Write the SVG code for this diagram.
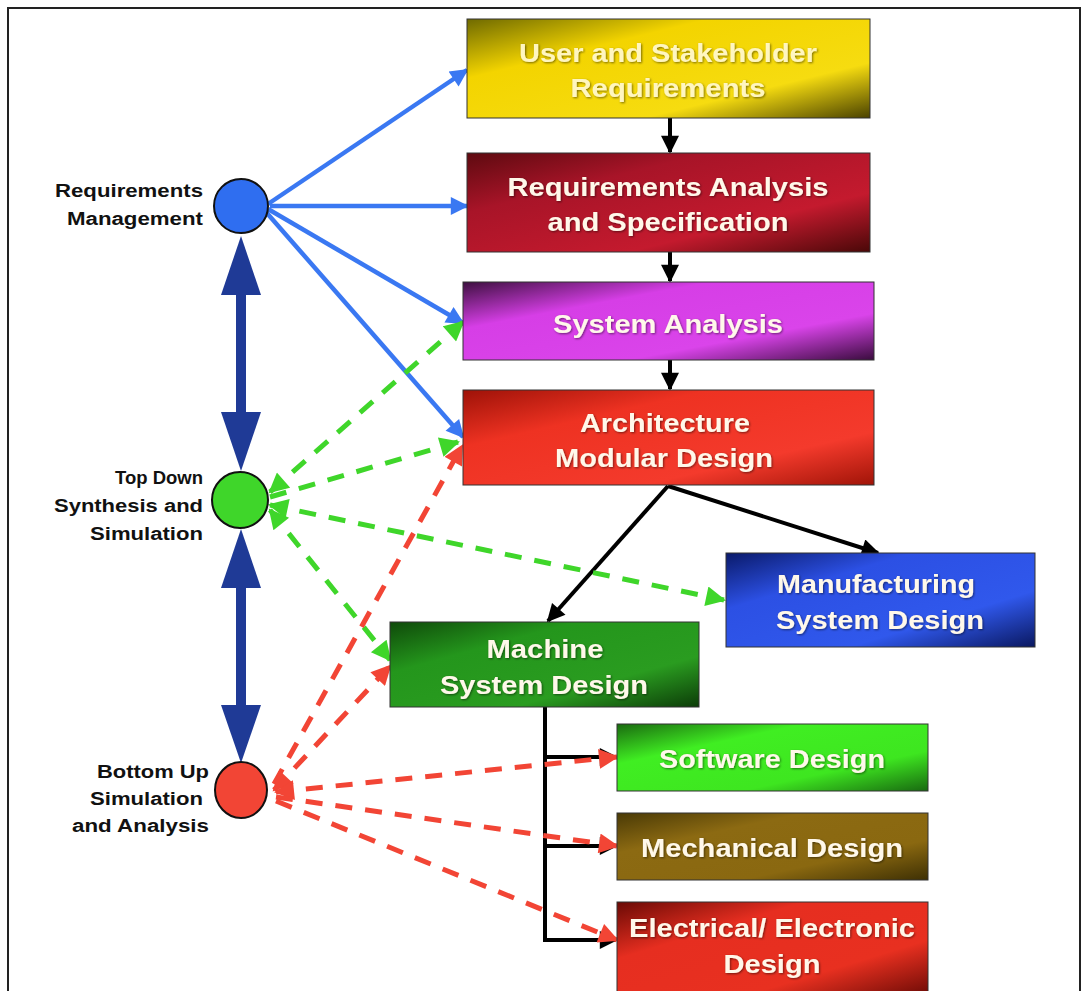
<svg xmlns="http://www.w3.org/2000/svg" width="1086" height="991" viewBox="0 0 1086 991">
<defs>
<style>
.box{stroke:#333;stroke-width:1}
.bt{font-family:"Liberation Sans",Arial,sans-serif;font-weight:bold;font-size:25px;fill:#fff8ea;text-anchor:middle;filter:url(#sh)}
.lt{font-family:"Liberation Sans",Arial,sans-serif;font-weight:bold;font-size:18px;fill:#111;text-anchor:end}
.blue{stroke:#3a78f2;stroke-width:4.5;fill:none;marker-end:url(#ab)}
.blk{stroke:#000;stroke-width:4;fill:none;marker-end:url(#ak)}
.gd{stroke:#3fd62a;stroke-width:5;fill:none;stroke-dasharray:17 13;marker-end:url(#ag)}
.rd{stroke:#f24535;stroke-width:5;fill:none;stroke-dasharray:17 13;marker-end:url(#ar)}
.dbl{stroke:#1f3a96;stroke-width:10;fill:none}
.tri{fill:#1f3a96}
</style>
<filter id="sh" x="-5%" y="-20%" width="110%" height="140%"><feDropShadow dx="1" dy="1" stdDeviation="0.8" flood-color="#000" flood-opacity="0.5"/></filter>
<marker id="ab" viewBox="0 0 10 10" refX="9" refY="5" markerWidth="22" markerHeight="18" markerUnits="userSpaceOnUse" orient="auto"><path d="M0,0 L10,5 L0,10 z" fill="#3a78f2"/></marker>
<marker id="ak" viewBox="0 0 10 10" refX="9" refY="5" markerWidth="20" markerHeight="18" markerUnits="userSpaceOnUse" orient="auto"><path d="M0,0 L10,5 L0,10 z" fill="#000"/></marker>
<marker id="ag" viewBox="0 0 10 10" refX="9" refY="5" markerWidth="22" markerHeight="20" markerUnits="userSpaceOnUse" orient="auto-start-reverse"><path d="M0,0 L10,5 L0,10 z" fill="#3fd62a"/></marker>
<marker id="ar" viewBox="0 0 10 10" refX="9" refY="5" markerWidth="22" markerHeight="20" markerUnits="userSpaceOnUse" orient="auto-start-reverse"><path d="M0,0 L10,5 L0,10 z" fill="#f24535"/></marker>
<linearGradient id="g1" x1="0" y1="0" x2="1" y2="1"><stop offset="0" stop-color="#6f6a00"/><stop offset="0.3" stop-color="#f3d400"/><stop offset="0.72" stop-color="#f6dc10"/><stop offset="1" stop-color="#4a4200"/></linearGradient>
<linearGradient id="g2" x1="0" y1="0" x2="1" y2="1"><stop offset="0" stop-color="#5e0a10"/><stop offset="0.3" stop-color="#a81428"/><stop offset="0.7" stop-color="#c41a2e"/><stop offset="1" stop-color="#4a0808"/></linearGradient>
<linearGradient id="g3" x1="0" y1="0" x2="1" y2="1"><stop offset="0" stop-color="#3e1040"/><stop offset="0.3" stop-color="#d63ee6"/><stop offset="0.7" stop-color="#da44ea"/><stop offset="1" stop-color="#3a0c3e"/></linearGradient>
<linearGradient id="g4" x1="0" y1="0" x2="1" y2="1"><stop offset="0" stop-color="#9e1208"/><stop offset="0.3" stop-color="#ee3222"/><stop offset="0.72" stop-color="#f43a2c"/><stop offset="1" stop-color="#a01408"/></linearGradient>
<linearGradient id="g5" x1="0" y1="0" x2="1" y2="1"><stop offset="0" stop-color="#0a1a6a"/><stop offset="0.3" stop-color="#2c50e4"/><stop offset="0.7" stop-color="#3058ec"/><stop offset="1" stop-color="#0a1860"/></linearGradient>
<linearGradient id="g6" x1="0" y1="0" x2="1" y2="1"><stop offset="0" stop-color="#0f4a0a"/><stop offset="0.3" stop-color="#24961c"/><stop offset="0.7" stop-color="#2a9c20"/><stop offset="1" stop-color="#0c3c08"/></linearGradient>
<linearGradient id="g7" x1="0" y1="0" x2="1" y2="1"><stop offset="0" stop-color="#1a6a10"/><stop offset="0.3" stop-color="#40ee22"/><stop offset="0.7" stop-color="#3ee620"/><stop offset="1" stop-color="#186a10"/></linearGradient>
<linearGradient id="g8" x1="0" y1="0" x2="1" y2="1"><stop offset="0" stop-color="#4a3a06"/><stop offset="0.3" stop-color="#8c6a12"/><stop offset="0.7" stop-color="#8a6810"/><stop offset="1" stop-color="#3e3004"/></linearGradient>
<linearGradient id="g9" x1="0" y1="0" x2="1" y2="1"><stop offset="0" stop-color="#6a0a05"/><stop offset="0.3" stop-color="#e62e20"/><stop offset="0.7" stop-color="#e83020"/><stop offset="1" stop-color="#6a0a05"/></linearGradient>
</defs>
<rect x="0" y="0" width="1086" height="991" fill="#fff"/>
<rect x="8" y="8" width="1072" height="1000" fill="none" stroke="#222" stroke-width="2"/>

<g id="connectors">
  <line class="dbl" x1="241" y1="290" x2="241" y2="415"/>
  <polygon class="tri" points="241,236 221,295 261,295"/>
  <polygon class="tri" points="241,471 221,412 261,412"/>
  <line class="dbl" x1="241" y1="585" x2="241" y2="708"/>
  <polygon class="tri" points="241,529 221,588 261,588"/>
  <polygon class="tri" points="241,763 221,705 261,705"/>
  <line class="blue" x1="268" y1="204" x2="467" y2="70"/>
  <line class="blue" x1="270" y1="206" x2="467" y2="206"/>
  <line class="blue" x1="268" y1="209" x2="463" y2="323"/>
  <line class="blue" x1="266" y1="212" x2="463" y2="437"/>
  <line class="blk" x1="670" y1="118" x2="670" y2="152"/>
  <line class="blk" x1="670" y1="252" x2="670" y2="281"/>
  <line class="blk" x1="670" y1="360" x2="670" y2="389"/>
  <polyline class="blk" points="668,486 548,621"/>
  <polyline class="blk" points="668,486 878,553"/>
  <polyline fill="none" stroke="#000" stroke-width="4" points="545,707 545,942"/>
  <line class="blk" x1="543" y1="757" x2="616" y2="757"/>
  <line class="blk" x1="543" y1="846" x2="616" y2="846"/>
  <line class="blk" x1="543" y1="940" x2="616" y2="940"/>
  <line class="gd" x1="270" y1="492" x2="463" y2="322" style="marker-start:url(#ag)"/>
  <line class="gd" x1="270" y1="497" x2="458" y2="442"/>
  <line class="gd" x1="270" y1="505" x2="724" y2="600" style="marker-start:url(#ag)"/>
  <line class="gd" x1="270" y1="510" x2="390" y2="660" style="marker-start:url(#ag)"/>
  <line class="rd" x1="274" y1="784" x2="462" y2="446"/>
  <line class="rd" x1="274" y1="790" x2="390" y2="666" style="marker-start:url(#ar)"/>
  <line class="rd" x1="276" y1="792" x2="617" y2="757" style="marker-start:url(#ar)"/>
  <line class="rd" x1="276" y1="797" x2="617" y2="846"/>
  <line class="rd" x1="276" y1="801" x2="617" y2="940"/>
</g>

<g id="n-user"><rect class="box" x="467" y="19" width="403" height="99" fill="url(#g1)"/>
<text class="bt" x="668" y="62" textLength="298" lengthAdjust="spacingAndGlyphs" style="fill:#fff6c0">User and Stakeholder</text>
<text class="bt" x="668" y="97" textLength="195" lengthAdjust="spacingAndGlyphs" style="fill:#fff6c0">Requirements</text></g>

<g id="n-reqa"><rect class="box" x="467" y="153" width="403" height="99" fill="url(#g2)"/>
<text class="bt" x="668" y="196" textLength="321" lengthAdjust="spacingAndGlyphs">Requirements Analysis</text>
<text class="bt" x="668" y="231" textLength="241" lengthAdjust="spacingAndGlyphs">and Specification</text></g>

<g id="n-sys"><rect class="box" x="463" y="282" width="411" height="78" fill="url(#g3)"/>
<text class="bt" x="668" y="333" textLength="230" lengthAdjust="spacingAndGlyphs">System Analysis</text></g>

<g id="n-arch"><rect class="box" x="463" y="390" width="411" height="95" fill="url(#g4)"/>
<text class="bt" x="665" y="432" textLength="170" lengthAdjust="spacingAndGlyphs">Architecture</text>
<text class="bt" x="664" y="467" textLength="218" lengthAdjust="spacingAndGlyphs">Modular Design</text></g>

<g id="n-manu"><rect class="box" x="726" y="553" width="309" height="94" fill="url(#g5)"/>
<text class="bt" x="876" y="593" textLength="198" lengthAdjust="spacingAndGlyphs">Manufacturing</text>
<text class="bt" x="880" y="629" textLength="208" lengthAdjust="spacingAndGlyphs">System Design</text></g>

<g id="n-mach"><rect class="box" x="390" y="622" width="309" height="85" fill="url(#g6)"/>
<text class="bt" x="545" y="658" textLength="117" lengthAdjust="spacingAndGlyphs">Machine</text>
<text class="bt" x="544" y="694" textLength="208" lengthAdjust="spacingAndGlyphs">System Design</text></g>

<g id="n-soft"><rect class="box" x="617" y="724" width="311" height="67" fill="url(#g7)"/>
<text class="bt" x="772" y="768" textLength="226" lengthAdjust="spacingAndGlyphs">Software Design</text></g>

<g id="n-mech"><rect class="box" x="617" y="813" width="311" height="67" fill="url(#g8)"/>
<text class="bt" x="772" y="857" textLength="262" lengthAdjust="spacingAndGlyphs">Mechanical Design</text></g>

<g id="n-elec"><rect class="box" x="617" y="902" width="311" height="95" fill="url(#g9)"/>
<text class="bt" x="772" y="937" textLength="286" lengthAdjust="spacingAndGlyphs">Electrical/ Electronic</text>
<text class="bt" x="772" y="973" textLength="97" lengthAdjust="spacingAndGlyphs">Design</text></g>

<g id="n-rm"><circle cx="241" cy="206" r="27" fill="#2f6ef0" stroke="#111" stroke-width="2"/>
<text class="lt" x="203" y="197" textLength="148" lengthAdjust="spacingAndGlyphs">Requirements</text>
<text class="lt" x="203" y="225" textLength="136" lengthAdjust="spacingAndGlyphs">Management</text></g>

<g id="n-td"><circle cx="240" cy="500" r="28" fill="#3fd62a" stroke="#111" stroke-width="2"/>
<text class="lt" x="203" y="484" textLength="88" lengthAdjust="spacingAndGlyphs">Top Down</text>
<text class="lt" x="203" y="512" textLength="149" lengthAdjust="spacingAndGlyphs">Synthesis and</text>
<text class="lt" x="203" y="540" textLength="113" lengthAdjust="spacingAndGlyphs">Simulation</text></g>

<g id="n-bu"><ellipse cx="241" cy="790" rx="26" ry="28" fill="#f24535" stroke="#111" stroke-width="2"/>
<text class="lt" x="209" y="778" textLength="112" lengthAdjust="spacingAndGlyphs">Bottom Up</text>
<text class="lt" x="203" y="805" textLength="113" lengthAdjust="spacingAndGlyphs">Simulation</text>
<text class="lt" x="209" y="832" textLength="137" lengthAdjust="spacingAndGlyphs">and Analysis</text></g>
</svg>
